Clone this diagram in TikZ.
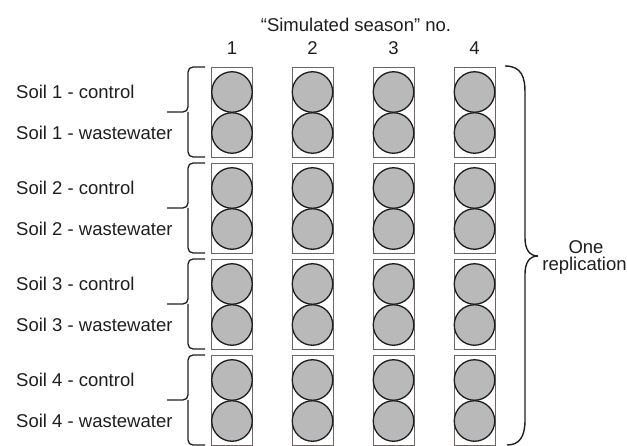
\documentclass[tikz,border=0pt]{standalone}
\usepackage{fontspec}
\setmainfont{Liberation Sans}
\definecolor{fillgray}{RGB}{185,185,185}
\definecolor{boxline}{RGB}{110,100,100}
\definecolor{inkc}{RGB}{30,30,30}
\begin{document}
\begin{tikzpicture}[x=1pt,y=-1pt,
  txt/.style={font=\fontsize{18.5}{22}\selectfont, text=inkc, inner sep=0pt},
  potbox/.style={draw=boxline, line width=0.9pt, minimum width=41pt, minimum height=90pt, inner sep=0pt},
  pot/.style={circle, draw=inkc, fill=fillgray, line width=1.3pt, minimum size=40.5pt, inner sep=0pt},
  bracel/.style={draw=inkc, line width=1.3pt, rounded corners=5pt}]
\useasboundingbox (0,0) rectangle (627,446);
\node[txt] (title) at (356,25) {“Simulated season" no.};
\foreach \c/\x in {1/232,2/312.5,3/393.5,4/474.5}{
  \node[txt] (col\c) at (\x,48) {\c};
  \foreach \g/\t in {1/67,2/163,3/259,4/355}{
    \node[potbox] (box\c\g) at (\x,\t+45) {};
    \node[pot] (pa\c\g) at (\x,\t+25) {};
    \node[pot] (pb\c\g) at (\x,\t+66) {};
  }
}
\foreach \g/\t in {1/67,2/163,3/259,4/355}{
  \node[txt, anchor=west] (ctl\g) at (16,\t+25) {Soil \g{} - control};
  \node[txt, anchor=west] (ww\g) at (16,\t+66) {Soil \g{} - wastewater};
  \coordinate (lt\g) at (205,\t);
  \coordinate (lb\g) at (205,\t+90);
  \coordinate (lm\g) at (188,\t+45);
  \coordinate (ltip\g) at (167,\t+45);
  \draw[bracel] (lt\g) -- (188,\t) -- (lm\g) -- (ltip\g);
  \draw[bracel] (lm\g) -- (188,\t+90) -- (lb\g);
}
\coordinate (rt) at (505,66);
\coordinate (rb) at (507,445);
\coordinate (rtip) at (538,256);
\draw[draw=inkc, line width=1.4pt] (rt) .. controls (522,66) and (525,78) .. (525,92) -- (525,238)
  .. controls (525,250) and (530,256) .. (rtip)
  .. controls (530,256) and (525,262) .. (525,274) -- (525,420)
  .. controls (525,436) and (520,445) .. (rb);
\node[txt] (one) at (586,247) {One};
\node[txt] (repl) at (584.5,266) {replication};
\end{tikzpicture}
\end{document}
